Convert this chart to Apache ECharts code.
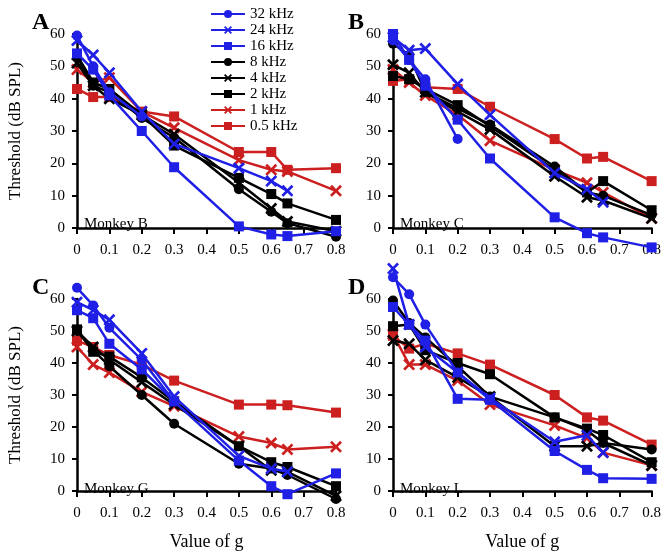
<!DOCTYPE html>
<html>
<head>
<meta charset="utf-8">
<script src="https://cdn.jsdelivr.net/npm/echarts@6/dist/echarts.min.js"></script>
<style>
  html, body { margin: 0; padding: 0; background: #fff; }
  #main { width: 664px; height: 552px; }
</style>
</head>
<body>
<div id="main"></div>
<script>
// values of g
var gValues = [0, 0.05, 0.1, 0.2, 0.3, 0.5, 0.6, 0.65, 0.8];
var freqNames = ['32 kHz', '24 kHz', '16 kHz', '8 kHz', '4 kHz', '2 kHz', '1 kHz', '0.5 kHz'];
var yTicks = [0, 10, 20, 30, 40, 50, 60];

// thresholds (dB SPL), one array per frequency, order of gValues
// Monkey B (panel A)
var b32  = [59.5, 50, 42, 34.5, null, null, null, null, null];
var b24  = [58, 53.5, 48, 36, 26, 18.5, 14.5, 11.5, null];
var b16  = [54, 49, 41, 30, 18.8, 0.5, -2, -2.5, -1];
var b8   = [53, 44, 42, 34, 28, 12, 5, 1.5, -2.7];
var b4   = [51, 44, 40, 35, 29, 14, 6, 2, -1];
var b2   = [53.5, 45, 43, 35, 25.5, 15.5, 10.5, 7.6, 2.5];
var b1   = [49, 45, 46.5, 36, 31, 21, 18, 17.5, 11.5];
var b05  = [43, 40.5, 40.5, 36, 34.5, 23.5, 23.5, 18, 18.5];
// Monkey C (panel B)
var c32  = [58, 52, 46, 27.5, null, null, null, null, null];
var c24  = [59, 55, 55.5, 44.5, 35, 17, 12, 8, null];
var c16  = [60, 52, 44, 33.5, 21.5, 3.3, -1.6, -2.9, -6];
var c8   = [57, 53.5, 42, 37, 32, 19, 11, 10, 4];
var c4   = [50.5, 48, 42, 36, 30.5, 16, 9.5, 8.5, 3];
var c2   = [47, 46, 43, 38, 31.5, 18, 11, 14.5, 5.5];
var c1   = [49, 45, 41, 35, 27, 18, 14, 11, 3];
var c05  = [45.5, 46, 43.5, 43, 37.5, 27.5, 21.5, 22, 14.5];
// Monkey G (panel C)
var g32  = [63.5, 58, 51, 41, 28, null, null, null, null];
var g24  = [59, 56.5, 53.5, 43, 29.5, 11, 7, 6, null];
var g16  = [56.5, 54, 46, 38, 28, 9.5, 1.5, -1, 5.5];
var g8   = [50, 44, 39, 30, 21, 8.5, 7, 5, -2.5];
var g4   = [50, 45, 41, 34, 27, 14, 6.5, 6, -1.5];
var g2   = [50.5, 43.5, 42, 35.5, 28, 14, 9, 7.5, 1.5];
var g1   = [45, 39.5, 37, 31, 26.5, 17, 15, 13, 13.8];
var g05  = [47, 45, 42.5, 39.5, 34.5, 27, 27, 26.8, 24.5];
// Monkey L (panel D)
var l32  = [66.8, 61.5, 52, 37, 28.5, null, null, null, null];
var l24  = [69.5, 52, 45, 37, 29, 15.4, 17.4, 12, null];
var l16  = [57.5, 52, 47, 28.8, 28.5, 12.5, 6.6, 4, 3.8];
var l8   = [59.5, 52.5, 48, 39, 29.5, 23, 19, 15, 13];
var l4   = [47, 46, 41, 35.5, 29.5, 14, 14, 15, 8];
var l2   = [51.5, 52, 44, 40, 36.5, 23, 19.5, 17.5, 9];
var l1   = [49, 39.5, 39.5, 34.5, 27, 20.5, 16.5, 12, 8];
var l05  = [48.5, 44.5, 46, 43, 39.5, 30, 23, 22, 14.5];

var panels = [
  { letter: 'A', monkey: 'Monkey B', data: [b32, b24, b16, b8, b4, b2, b1, b05] },
  { letter: 'B', monkey: 'Monkey C', data: [c32, c24, c16, c8, c4, c2, c1, c05] },
  { letter: 'C', monkey: 'Monkey G', data: [g32, g24, g16, g8, g4, g2, g1, g05] },
  { letter: 'D', monkey: 'Monkey L', data: [l32, l24, l16, l8, l4, l2, l1, l05] }
];

var BLUE = '#1f1fe6', BLACK = '#000000', RED = '#cc1f1f';
var XMARK = 'path://M0,1.6L1.6,0L5,3.4L8.4,0L10,1.6L6.6,5L10,8.4L8.4,10L5,6.6L1.6,10L0,8.4L3.4,5Z';
var colors  = [BLUE, BLUE, BLUE, BLACK, BLACK, BLACK, RED, RED];
var symbols = ['circle', XMARK, 'rect', 'circle', XMARK, 'rect', XMARK, 'rect'];
var symSize = [10, 12, 10, 10, 12, 10, 12, 10];

var FONT = '"Liberation Serif", "DejaVu Serif", serif';
var chart = echarts.init(document.getElementById('main'));

var lefts = [77, 393, 77, 393], tops = [34, 34, 299, 299];
var grids = [], xAxes = [], yAxes = [], series = [], titles = [];

panels.forEach(function (p, i) {
  grids.push({ left: lefts[i], top: tops[i], width: 259, height: 194 });
  xAxes.push({
    type: 'value', gridIndex: i, min: 0, max: 0.8, interval: 0.1, offset: 8,
    name: i >= 2 ? 'Value of g' : '', nameLocation: 'middle', nameGap: 34,
    nameTextStyle: { fontFamily: FONT, fontSize: 18, color: '#000' },
    axisLine: { lineStyle: { color: '#000', width: 2.5 } },
    axisTick: { length: 6, lineStyle: { color: '#000', width: 2 } },
    axisLabel: { fontFamily: FONT, fontSize: 15, color: '#000', margin: 7 },
    splitLine: { show: false }
  });
  yAxes.push({
    type: 'value', gridIndex: i, min: 0, max: 60, interval: 10, offset: 5,
    name: i % 2 === 0 ? 'Threshold (dB SPL)' : '', nameLocation: 'middle', nameGap: 48,
    nameTextStyle: { fontFamily: FONT, fontSize: 17, color: '#000' },
    axisLine: { show: true, lineStyle: { color: '#000', width: 2.5 } },
    axisTick: { show: true, length: 5, lineStyle: { color: '#000', width: 2 } },
    axisLabel: { fontFamily: FONT, fontSize: 15, color: '#000', margin: 7 },
    splitLine: { show: false }
  });
  p.data.forEach(function (vals, k) {
    series.push({
      name: freqNames[k], type: 'line', xAxisIndex: i, yAxisIndex: i,
      data: gValues.map(function (g, j) { return [g, vals[j]]; }),
      clip: false, animation: false,
      symbol: symbols[k], symbolSize: symSize[k],
      lineStyle: { color: colors[k], width: 2.5 },
      itemStyle: { color: colors[k] },
      z: 10 - k
    });
  });
  titles.push({
    text: p.letter, left: lefts[i] - 50, top: tops[i] - 28,
    textStyle: { fontFamily: FONT, fontSize: 24, fontWeight: 'bold', color: '#000' }
  });
  titles.push({
    text: p.monkey, left: lefts[i] + 2, top: tops[i] + 178,
    textStyle: { fontFamily: FONT, fontSize: 15, fontWeight: 'normal', color: '#000' }
  });
});

chart.setOption({
  animation: false,
  title: titles,
  color: colors,
  legend: {
    data: freqNames, orient: 'vertical', left: 205, top: 1,
    itemWidth: 34, itemHeight: 10, itemGap: 0,
    textStyle: { fontFamily: FONT, fontSize: 15, color: '#000', lineHeight: 16 }
  },
  grid: grids,
  xAxis: xAxes,
  yAxis: yAxes,
  series: series
});
</script>
</body>
</html>
